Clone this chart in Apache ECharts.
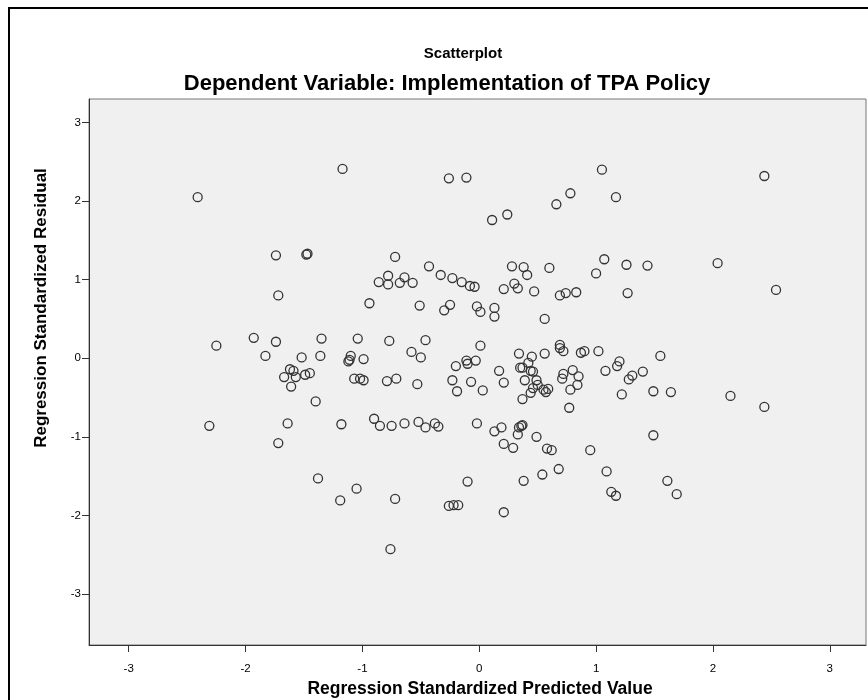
<!DOCTYPE html>
<html>
<head>
<meta charset="utf-8">
<script src="https://cdn.jsdelivr.net/npm/echarts@6/dist/echarts.min.js"></script>
<style>
html,body{margin:0;padding:0;background:#fff;}
#chart{width:868px;height:700px;}
</style>
</head>
<body>
<div id="chart"></div>
<script>
// Regression Standardized Predicted Value (x)
const predicted = [
-2.41,-1.17,-1.74,-1.48,-1.47,-1.72,-0.26,-0.11,0.78,0.66,
0.24,0.11,-0.72,-0.43,0.28,0.38,0.41,0.60,-0.33,-0.23,
-0.15,-0.08,-0.04,0.21,0.30,0.33,0.47,0.69,0.74,0.83,
-0.78,-0.78,-0.86,-0.68,-0.64,-0.57,-0.94,-0.51,-0.30,-0.25,
-0.02,0.01,0.13,0.13,0.56,-1.04,-0.77,-0.46,-0.58,-0.50,
-1.10,-1.11,-1.12,-0.99,0.01,-0.20,-0.11,-0.10,-0.03,0.17,
0.34,0.45,0.56,0.69,0.69,0.72,0.87,0.90,0.35,0.37,
0.42,0.44,0.46,0.39,0.49,0.50,0.46,0.44,0.37,0.55,
0.57,0.59,0.72,0.71,0.80,0.85,0.84,0.78,0.77,-0.23,
-0.19,-0.07,0.03,0.21,-1.07,-1.02,-0.99,-0.79,-0.71,-0.53,
-1.18,-0.90,-0.85,-0.75,-0.64,-0.52,-0.46,-0.38,-0.35,-0.02,
0.13,0.19,0.34,0.36,0.37,0.33,0.49,0.21,0.29,0.58,
0.62,0.95,-2.25,-1.93,-1.74,-1.35,-1.83,-1.52,-1.36,-1.62,
-1.59,-1.67,-1.57,-1.49,-1.45,-1.61,-1.40,-2.31,-1.64,-1.72,
1.02,1.55,1.20,1.18,1.08,1.40,1.31,1.28,1.22,1.49,
1.64,2.15,2.44,1.49,1.05,1.17,2.44,1.07,1.00,1.26,
1.44,2.04,1.27,2.54,-1.38,-1.19,-1.05,-0.72,-0.76,-0.26,
-0.22,-0.18,-0.10,0.21,0.38,0.54,0.68,1.09,1.13,1.17,
1.61,1.69
];
// Regression Standardized Residual (y)
const residual = [
2.05,2.41,1.31,1.32,1.33,0.80,2.29,2.30,2.10,1.96,
1.83,1.76,1.29,1.17,1.17,1.16,1.06,1.15,1.06,1.02,
0.97,0.92,0.91,0.88,0.95,0.89,0.85,0.80,0.83,0.84,
1.05,0.94,0.97,0.96,1.03,0.96,0.70,0.67,0.61,0.68,
0.66,0.59,0.64,0.53,0.50,0.25,0.22,0.23,0.08,0.01,
0.03,-0.02,-0.04,-0.01,0.16,-0.10,-0.03,-0.07,-0.03,-0.16,
0.06,0.02,0.06,0.17,0.13,0.09,0.07,0.09,-0.12,-0.12,
-0.06,-0.16,-0.17,-0.28,-0.28,-0.34,-0.38,-0.44,-0.52,-0.40,
-0.43,-0.39,-0.20,-0.26,-0.15,-0.23,-0.34,-0.40,-0.63,-0.28,
-0.42,-0.30,-0.41,-0.31,-0.26,-0.26,-0.28,-0.29,-0.26,-0.33,
-0.84,-0.77,-0.86,-0.86,-0.83,-0.81,-0.88,-0.83,-0.87,-0.83,
-0.93,-0.88,-0.88,-0.86,-0.85,-0.97,-1.00,-1.09,-1.14,-1.15,
-1.17,-1.17,0.16,0.26,0.21,0.25,0.03,0.01,0.03,-0.14,
-0.16,-0.24,-0.24,-0.21,-0.19,-0.36,-0.55,-0.86,-0.83,-1.08,
0.09,0.03,-0.04,-0.10,-0.16,-0.17,-0.22,-0.27,-0.46,-0.42,
-0.43,-0.48,-0.62,-0.98,2.40,2.05,2.32,1.26,1.08,1.19,
1.18,1.21,0.83,0.87,-1.53,-1.81,-1.66,-1.79,-2.43,-1.88,
-1.87,-1.87,-1.57,-1.96,-1.56,-1.48,-1.41,-1.44,-1.70,-1.75,
-1.56,-1.73
];
const tickValues = [-3,-2,-1,0,1,2,3];
const titleText = 'Scatterplot';
const subtitleText = 'Dependent Variable: Implementation of TPA Policy';
const xName = 'Regression Standardized Predicted Value';
const yName = 'Regression Standardized Residual';

const points = predicted.map((x,i)=>[x,residual[i]]);
const FONT = '"Liberation Sans", Arial, sans-serif';

const chart = echarts.init(document.getElementById('chart'), null, {renderer:'canvas'});
chart.setOption({
  animation:false,
  backgroundColor:'#fff',
  graphic:[
    {type:'rect', silent:true, z:-10,
     shape:{x:9,y:8,width:900,height:740},
     style:{fill:'none',stroke:'#000',lineWidth:2}},
    {type:'text', silent:true, x:480, y:689,
     style:{text:xName, fontFamily:FONT, fontSize:17.5, fontWeight:'bold', fill:'#000',
            align:'center', verticalAlign:'middle'}},
    {type:'text', silent:true, x:41, y:308, rotation:Math.PI/2,
     style:{text:yName, fontFamily:FONT, fontSize:17, fontWeight:'bold', fill:'#000',
            align:'center', verticalAlign:'middle'}}
  ],
  title:[
    {text:titleText,left:458,textAlign:'center',top:41,
     textStyle:{fontFamily:FONT,fontSize:15,fontWeight:'bold',color:'#000'}},
    {text:subtitleText,left:442,textAlign:'center',top:68,
     textStyle:{fontFamily:FONT,fontSize:22,fontWeight:'bold',color:'#000'}}
  ],
  grid:{left:89,top:99,width:777,height:546,show:true,
        backgroundColor:'#f0f0f0',borderColor:'#777',borderWidth:1},
  xAxis:{
    type:'value',min:-3.34,max:3.31,
    axisLine:{show:true,onZero:false,lineStyle:{color:'#333',width:1}},
    axisTick:{show:true,length:7,customValues:tickValues,lineStyle:{color:'#333'}},
    axisLabel:{customValues:tickValues,fontFamily:FONT,fontSize:11.5,color:'#000',margin:18},
    splitLine:{show:false}
  },
  yAxis:{
    type:'value',min:-3.65,max:3.30,
    axisLine:{show:true,onZero:false,lineStyle:{color:'#333',width:1}},
    axisTick:{show:true,length:7,customValues:tickValues,lineStyle:{color:'#333'}},
    axisLabel:{customValues:tickValues,fontFamily:FONT,fontSize:11.5,color:'#000',margin:8},
    splitLine:{show:false}
  },
  series:[{
    type:'scatter',
    data:points,
    symbol:'circle',
    symbolSize:9,
    itemStyle:{color:'rgba(0,0,0,0)',borderColor:'#333',borderWidth:1.3,opacity:1},
    emphasis:{disabled:true}
  }]
});
</script>
</body>
</html>
